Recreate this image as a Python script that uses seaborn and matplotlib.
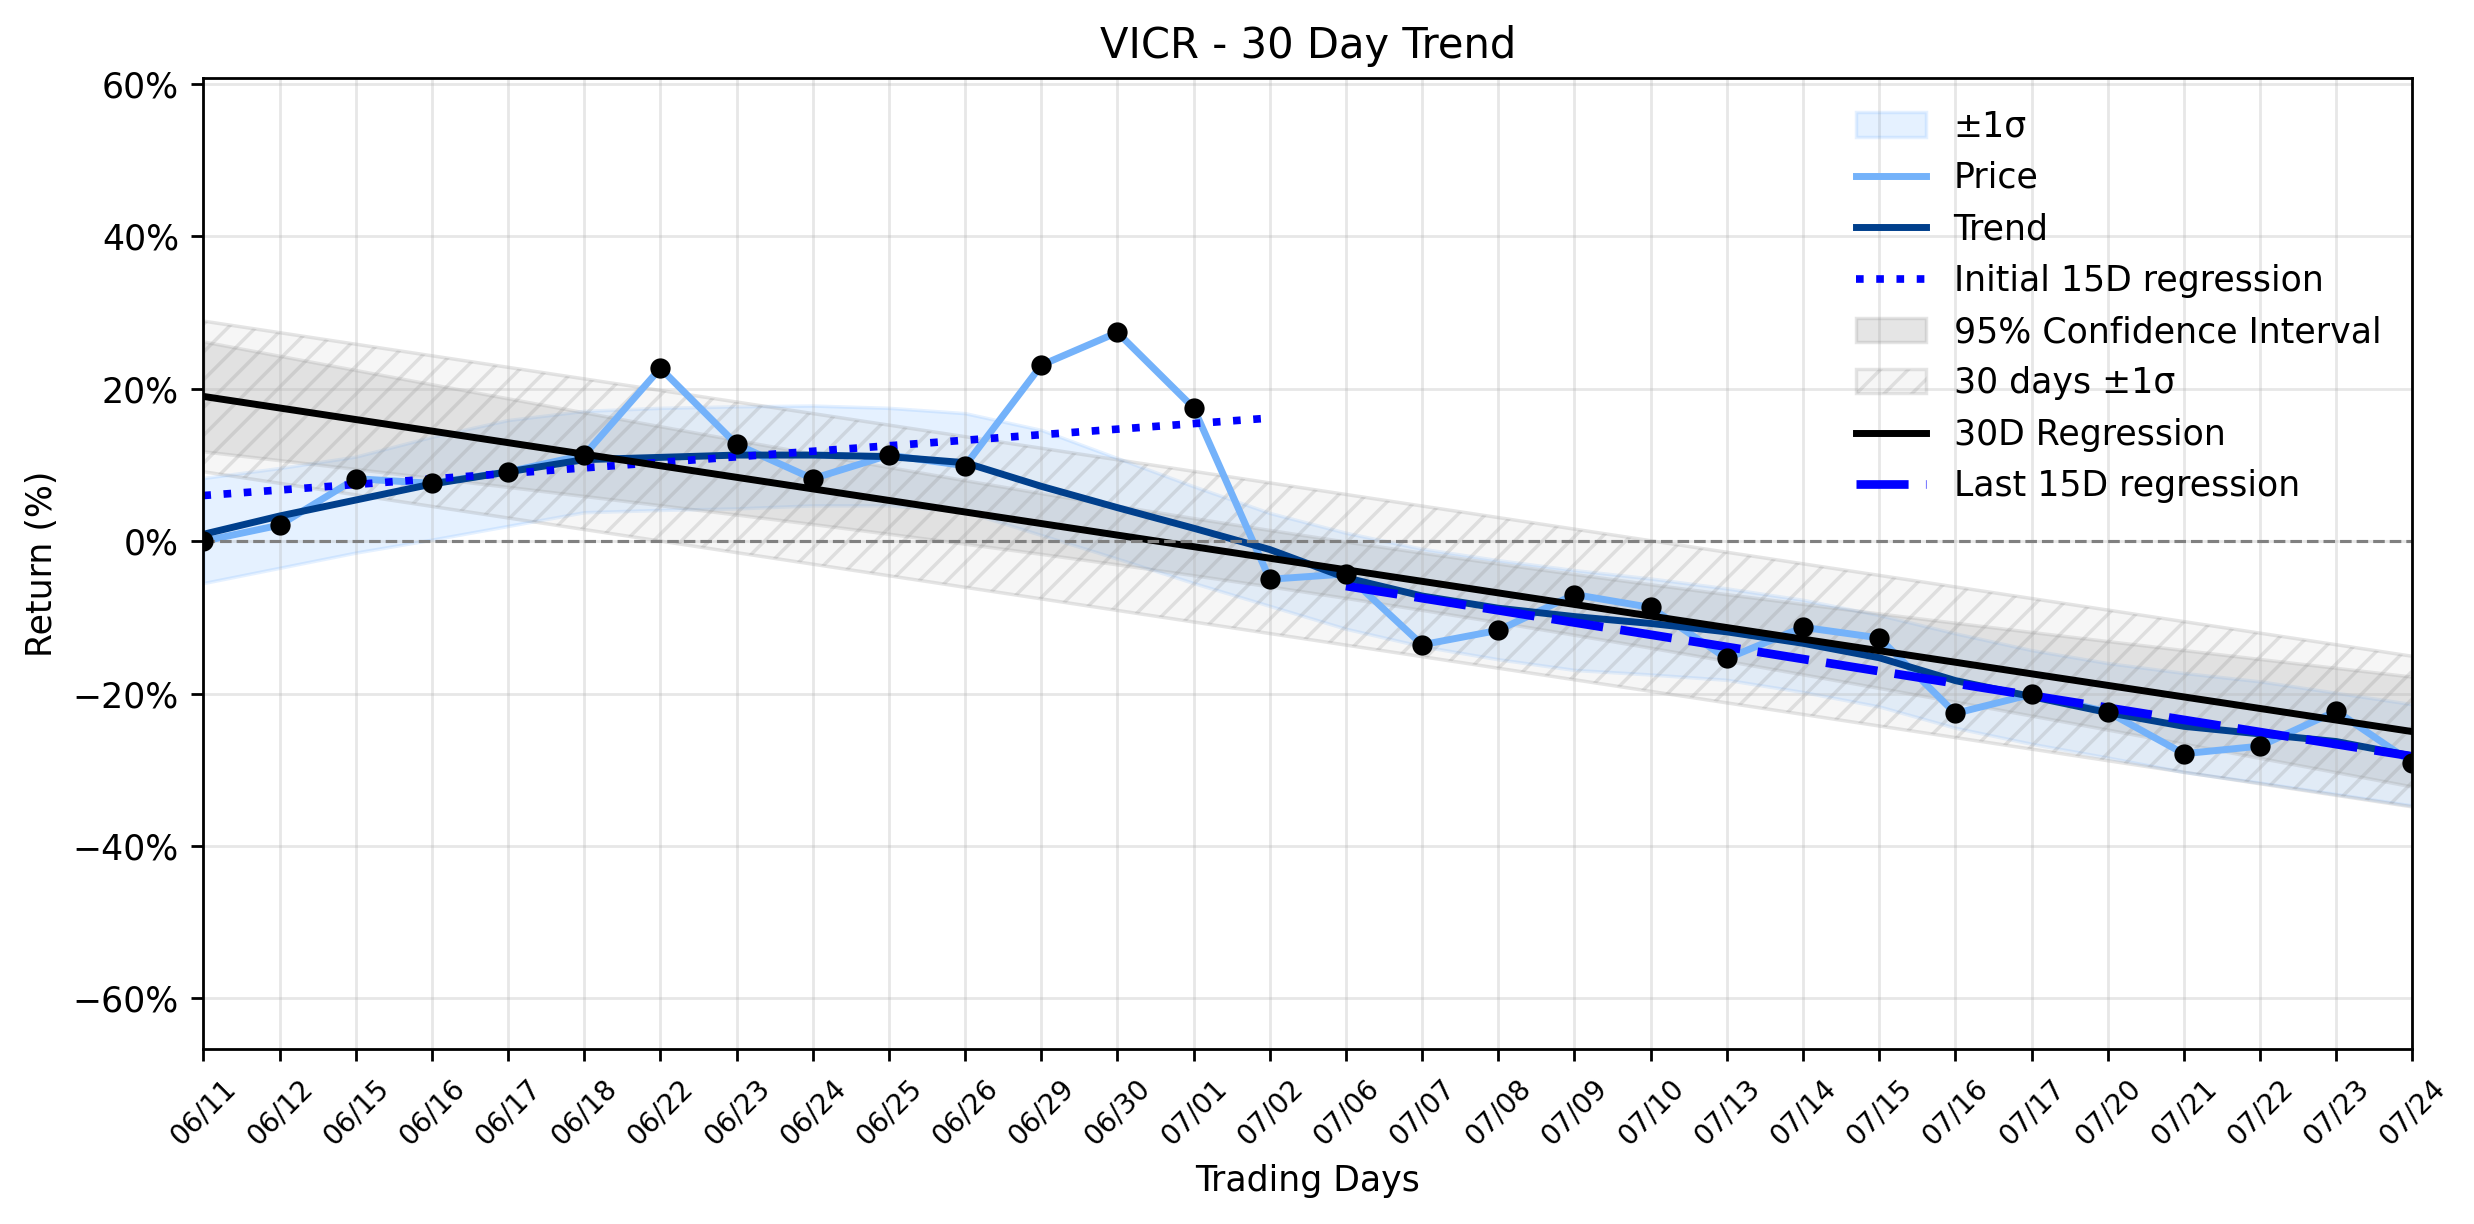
import numpy as np
import pandas as pd
import matplotlib
matplotlib.use('Agg')
import matplotlib.pyplot as plt
import seaborn as sns
from matplotlib.ticker import FuncFormatter

# trading days shown on the x axis
dates = ['06/11', '06/12', '06/15', '06/16', '06/17', '06/18', '06/22', '06/23', '06/24', '06/25',
         '06/26', '06/29', '06/30', '07/01', '07/02', '07/06', '07/07', '07/08', '07/09', '07/10',
         '07/13', '07/14', '07/15', '07/16', '07/17', '07/20', '07/21', '07/22', '07/23', '07/24']

# cumulative return (%)
price = [0.0, 2.1, 8.2, 7.6, 9.1, 11.3, 22.7, 12.7, 8.2, 11.3,
         9.9, 23.1, 27.4, 17.5, -5.0, -4.3, -13.6, -11.7, -7.0, -8.7,
         -15.4, -11.3, -12.7, -22.6, -20.1, -22.4, -27.9, -26.9, -22.3, -29.1]

# smoothed trend line
trend = [0.9, 3.3, 5.4, 7.5, 9.1, 10.7, 11.0, 11.3, 11.3, 11.1,
         10.3, 7.2, 4.4, 1.7, -1.1, -4.8, -7.2, -8.8, -9.9, -10.8,
         -11.9, -13.4, -15.3, -18.3, -20.4, -22.5, -24.3, -25.3, -26.3, -28.2]

# +/- 1 sigma band around the trend
band_lo = [-5.5, -3.5, -1.5, 0.2, 2.0, 3.8, 4.1, 4.3, 4.7, 4.7,
           3.9, 0.8, -2.3, -5.5, -8.5, -11.5, -13.8, -15.5, -16.9, -17.5,
           -18.2, -19.8, -21.7, -24.5, -26.6, -28.4, -30.3, -31.7, -33.2, -34.7]
band_hi = [8.3, 9.6, 11.1, 13.7, 15.9, 17.1, 17.5, 17.7, 17.8, 17.5,
           16.8, 14.6, 10.9, 7.2, 3.7, 1.1, -1.0, -2.5, -3.8, -4.9,
           -6.2, -7.7, -9.7, -12.1, -14.3, -16.0, -17.3, -18.4, -19.9, -21.4]

df = pd.DataFrame({'day': np.arange(len(dates)), 'price': price, 'trend': trend})
x = df['day'].values
y = df['price'].values
n = len(x)

# 30 day regression with 95% CI and residual sigma
b, a = np.polyfit(x, y, 1)
fit = a + b * x
resid_sd = np.sqrt(np.sum((y - fit) ** 2) / (n - 2))
sxx = np.sum((x - x.mean()) ** 2)
t_crit = 2.048  # t(0.975, df=28)
ci = t_crit * resid_sd * np.sqrt(1.0 / n + (x - x.mean()) ** 2 / sxx)

# 15 day regressions
x1, y1 = x[:15], y[:15]
x2, y2 = x[15:], y[15:]
fit1 = np.polyval(np.polyfit(x1, y1, 1), x1)
fit2 = np.polyval(np.polyfit(x2, y2, 1), x2)

fig, ax = plt.subplots(figsize=(2474 / 250, 1224 / 250), dpi=250)
fig.subplots_adjust(left=0.0822, right=0.9751, bottom=0.1427, top=0.936)

ax.fill_between(x, band_lo, band_hi, color='#2b8cff', alpha=0.12, label='±1σ')
sns.lineplot(data=df, x='day', y='price', color='#74b2fa', lw=2, label='Price', ax=ax)
sns.lineplot(data=df, x='day', y='trend', color='#003f8c', lw=2, label='Trend', ax=ax)
ax.plot(x1, fit1, ls=':', color='blue', lw=2.2, label='Initial 15D regression')
ax.fill_between(x, fit - ci, fit + ci, color='gray', alpha=0.2, label='95% Confidence Interval')
ax.fill_between(x, fit - resid_sd, fit + resid_sd, facecolor='lightgray', edgecolor='gray',
                hatch='///', alpha=0.2, label='30 days ±1σ')
ax.plot(x, fit, color='black', lw=2, label='30D Regression')
ax.plot(x2, fit2, color='blue', lw=2.5, dashes=(6, 2), label='Last 15D regression')
sns.scatterplot(data=df, x='day', y='price', color='black', s=34, linewidth=0,
                zorder=5, legend=False, ax=ax)
ax.axhline(0, color='gray', ls='--', lw=0.9)

ax.set_xlim(0, n - 1)
ax.set_ylim(-66.7, 60.75)
ax.set_xticks(x)
ax.set_xticklabels(dates, rotation=45, fontsize=8)
ax.set_yticks([-60, -40, -20, 0, 20, 40, 60])
ax.yaxis.set_major_formatter(FuncFormatter(lambda v, p: f'{v:.0f}%'.replace('-', '\u2212')))
ax.grid(True, alpha=0.3)
ax.set_title('VICR - 30 Day Trend')
ax.set_xlabel('Trading Days')
ax.set_ylabel('Return (%)')
ax.legend(loc='upper right', frameon=False)

fig.savefig('out.png', dpi=250)
